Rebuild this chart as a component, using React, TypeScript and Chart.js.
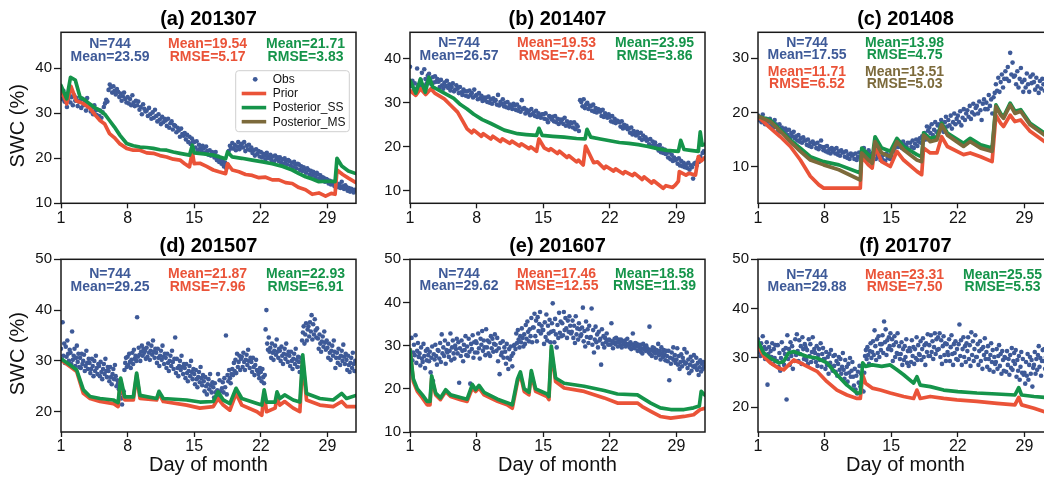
import React, { useEffect, useRef } from "react";
import { Chart, registerables } from "chart.js";

Chart.register(...registerables);

const FONT = '"Liberation Sans", Arial, Helvetica, sans-serif';
Chart.defaults.font.family = FONT;

// ---------- colours ----------
const COL_OBS = "#3e5a98";
const COL_PRIOR = "#ea5338";
const COL_SS = "#15944a";
const COL_MS = "#7c6a3b";

// ---------- shared axis data ----------
const X_TICKS = [1, 8, 15, 22, 29];
const X_MIN = 1;
const X_MAX = 32;
const X_LABEL = "Day of month";
const Y_LABEL = "SWC (%)";
const LEGEND_LABELS = ["Obs", "Prior", "Posterior_SS", "Posterior_MS"];

type Pt = [number, number];

// ---------- (a) 201307 ----------
const A_TITLE = "(a) 201307";
const A_Y_TICKS = [10, 20, 30, 40];
const A_OBS_PER_DAY = 8;
const A_OBS = [
  34.6, 33.2, 35.0, 32.6, 33.8, 31.4, 33.0, 34.2,
  32.4, 33.6, 31.8, 34.0, 32.8, 33.4, 31.6, 32.6,
  32.8, 31.2, 33.2, 31.8, 32.4, 30.6, 33.4, 31.4,
  31.6, 30.4, 31.2, 29.8, 31.8, 30.6, 29.6, 30.8,
  29.4, 30.6, 29.0, 30.2, 31.4, 32.2, 33.0, 32.6,
  35.2, 36.4, 35.8, 34.6, 36.0, 35.0, 34.2, 35.4,
  34.8, 33.6, 34.4, 32.8, 33.8, 34.6, 33.2, 32.4,
  33.6, 32.2, 33.2, 31.8, 34.0, 32.4, 31.6, 32.8,
  31.8, 32.6, 30.8, 31.4, 29.8, 32.0, 31.0, 30.4,
  30.6, 29.4, 31.2, 29.8, 28.8, 30.2, 29.0, 30.8,
  29.4, 28.2, 29.8, 28.6, 27.6, 29.2, 28.0, 28.8,
  28.4, 27.2, 28.8, 26.8, 27.8, 28.2, 26.4, 27.4,
  27.2, 25.8, 26.8, 26.2, 24.8, 26.6, 25.4, 25.0,
  25.6, 24.2, 25.2, 23.6, 24.8, 23.2, 24.4, 23.8,
  23.6, 22.4, 23.8, 21.8, 23.0, 22.2, 21.6, 22.8,
  22.2, 21.2, 22.6, 21.6, 20.8, 21.8, 20.6, 21.4,
  21.0, 20.2, 21.4, 19.6, 20.4, 19.2, 20.0, 18.8,
  19.4, 18.2, 19.0, 17.8, 18.6, 21.6, 22.8, 22.2,
  23.4, 22.2, 23.0, 21.8, 22.6, 23.6, 22.0, 22.8,
  23.2, 22.4, 23.6, 21.6, 22.8, 22.0, 23.0, 21.8,
  22.4, 21.2, 21.8, 20.6, 22.0, 21.0, 21.6, 20.4,
  21.4, 20.2, 21.0, 20.6, 19.8, 21.2, 20.4, 20.0,
  20.8, 19.6, 20.4, 19.2, 20.6, 19.8, 20.2, 19.4,
  20.2, 19.0, 19.8, 18.8, 20.0, 19.4, 18.6, 19.6,
  19.4, 18.4, 19.0, 18.0, 19.2, 18.6, 17.8, 18.8,
  18.6, 17.4, 18.2, 17.2, 18.0, 17.6, 16.8, 17.8,
  17.4, 16.4, 17.2, 16.2, 17.0, 16.6, 15.8, 16.8,
  16.4, 15.4, 16.2, 15.0, 15.8, 15.6, 14.8, 15.4,
  15.2, 14.4, 15.0, 14.2, 14.8, 14.6, 13.8, 14.4,
  14.4, 13.6, 14.2, 13.4, 14.8, 13.8, 13.2, 14.0,
  13.6, 12.8, 13.4, 12.6, 13.2, 13.0, 12.4, 13.0,
];
const A_PRIOR: Pt[] = [
  [1, 35.4], [1.6, 32.1], [2.05, 36.0], [2.6, 32.8], [3.3, 32.2], [4.0, 31.2], [4.6, 29.6], [5.1, 28.4],
  [5.6, 27.6], [6.1, 25.5], [6.6, 24.6], [7.2, 23.2], [7.9, 22.2], [8.6, 21.8], [9.3, 21.8], [10.0, 21.2],
  [10.7, 21.1], [11.4, 20.6], [12.1, 20.3], [12.8, 19.8], [13.5, 19.6], [14.0, 18.8], [14.5, 18.1], [14.8, 21.4],
  [15.0, 18.8], [15.6, 18.9], [16.3, 18.2], [17.0, 17.4], [17.6, 17.0], [18.3, 16.6], [18.5, 18.8], [19.0, 17.4],
  [19.7, 17.0], [20.4, 16.4], [21.1, 16.2], [21.8, 15.7], [22.5, 15.8], [23.2, 15.2], [23.9, 15.2], [24.6, 14.6],
  [25.3, 14.4], [26.0, 13.5], [26.7, 13.0], [27.4, 12.0], [28.1, 12.3], [28.8, 11.6], [29.4, 12.2], [29.8, 12.0],
  [30.0, 17.4], [30.6, 16.4], [31.2, 15.6], [32, 14.6],
];
const A_SS: Pt[] = [
  [1, 36.2], [1.6, 33.2], [2.0, 38.0], [2.5, 37.4], [3.0, 33.6], [3.5, 33.0], [4.0, 32.1], [4.6, 31.2],
  [5.1, 30.6], [5.6, 29.8], [6.1, 28.4], [6.6, 27.0], [7.2, 25.1], [7.9, 23.3], [8.6, 22.8], [9.3, 22.5],
  [10.0, 22.4], [10.7, 22.2], [11.4, 21.9], [12.1, 21.8], [12.8, 21.4], [13.5, 21.1], [14.5, 20.7], [14.8, 22.9],
  [15.0, 21.2], [16.0, 21.0], [17.0, 20.7], [18.3, 19.9], [18.5, 21.4], [19.0, 20.3], [20.0, 20.0], [21.1, 19.6],
  [22.2, 19.2], [23.2, 18.8], [24.3, 18.2], [25.3, 17.4], [26.0, 16.6], [26.7, 15.9], [27.4, 15.4], [28.1, 14.8],
  [29.0, 14.9], [29.8, 14.8], [30.0, 20.0], [30.5, 18.3], [31.2, 17.2], [32, 16.6],
];
const A_STATS_OBS = ["N=744", "Mean=23.59"];
const A_STATS_PRIOR = ["Mean=19.54", "RMSE=5.17"];
const A_STATS_SS = ["Mean=21.71", "RMSE=3.83"];

// ---------- (b) 201407 ----------
const B_TITLE = "(b) 201407";
const B_Y_TICKS = [10, 20, 30, 40];
const B_OBS_PER_DAY = 8;
const B_OBS = [
  38.2, 33.8, 35.0, 32.6, 34.4, 33.2, 37.8, 34.0,
  33.6, 35.2, 36.8, 34.0, 37.6, 35.4, 34.4, 36.2,
  36.6, 35.0, 34.2, 35.8, 34.6, 36.0, 34.8, 35.4,
  34.8, 33.6, 35.2, 34.0, 33.2, 34.6, 33.8, 35.0,
  33.4, 34.2, 32.8, 33.6, 34.4, 32.6, 33.0, 34.0,
  33.2, 32.2, 33.6, 32.4, 31.8, 33.0, 32.6, 31.6,
  32.6, 31.4, 32.8, 31.8, 32.2, 31.2, 33.0, 31.6,
  31.8, 30.8, 32.2, 31.0, 31.6, 30.4, 31.2, 30.6,
  31.2, 30.2, 31.4, 30.0, 30.8, 29.8, 31.0, 30.4,
  30.6, 29.6, 31.8, 29.4, 30.2, 29.8, 30.8, 29.2,
  30.0, 29.0, 30.2, 28.8, 29.6, 29.2, 28.6, 29.8,
  29.4, 28.4, 29.6, 28.2, 29.0, 28.0, 30.6, 28.6,
  28.8, 27.6, 28.4, 27.8, 28.2, 27.2, 28.6, 27.4,
  27.8, 27.0, 28.2, 26.8, 27.6, 27.2, 26.6, 27.4,
  27.4, 26.4, 27.6, 26.2, 25.6, 27.0, 26.8, 26.2,
  26.8, 25.8, 27.0, 25.6, 26.4, 25.2, 26.2, 25.6,
  26.2, 25.2, 26.6, 24.8, 25.8, 25.0, 24.6, 25.6,
  25.4, 24.4, 25.6, 24.0, 25.0, 24.6, 23.6, 30.6,
  30.2, 29.2, 30.8, 28.8, 29.6, 30.0, 28.6, 29.4,
  29.2, 28.2, 29.6, 28.0, 28.8, 27.8, 28.6, 28.4,
  28.0, 27.0, 28.4, 26.8, 27.6, 27.2, 26.6, 27.4,
  26.8, 25.8, 27.0, 25.6, 26.4, 25.4, 26.0, 25.8,
  25.6, 24.6, 25.8, 24.2, 25.0, 24.4, 24.8, 24.0,
  24.2, 23.2, 24.4, 22.8, 23.6, 23.0, 22.6, 23.4,
  23.0, 22.0, 23.2, 21.6, 22.6, 21.8, 22.2, 21.4,
  21.6, 20.6, 21.8, 20.2, 21.2, 20.4, 21.0, 19.8,
  20.2, 19.2, 20.4, 18.8, 19.6, 18.6, 19.4, 18.4,
  18.6, 17.6, 18.8, 17.2, 18.2, 16.8, 17.6, 17.0,
  17.2, 16.2, 17.4, 15.8, 16.8, 15.6, 16.4, 15.4,
  16.0, 15.2, 16.4, 14.8, 15.8, 15.4, 12.8, 16.2,
  16.4, 15.8, 17.0, 16.6, 17.8, 17.2, 18.6, 19.0,
];
const B_PRIOR: Pt[] = [
  [1, 32.8], [1.6, 31.7], [2.1, 33.2], [2.65, 31.9], [3.2, 33.2], [3.6, 32.2], [4.6, 30.9], [5.3, 29.4],
  [6.0, 27.9], [6.5, 26.0], [7.0, 24.1], [7.5, 23.2], [7.7, 23.8], [8.5, 22.4], [8.7, 23.0], [9.5, 21.8],
  [9.7, 22.4], [10.5, 21.2], [10.7, 21.8], [11.5, 20.8], [11.7, 21.3], [12.5, 20.2], [12.7, 20.7], [13.5, 19.6],
  [13.7, 20.0], [14.3, 19.0], [14.55, 21.8], [15.1, 19.8], [15.6, 19.2], [15.8, 19.6], [16.5, 18.5], [16.7, 19.0],
  [17.5, 17.6], [17.7, 18.0], [18.5, 16.6], [18.7, 17.0], [19.2, 15.9], [19.45, 20.2], [20.3, 16.4], [20.7, 16.6],
  [21.4, 15.1], [21.6, 15.6], [22.4, 14.5], [22.6, 15.0], [23.4, 13.9], [23.6, 14.4], [24.4, 13.5], [24.6, 14.0],
  [25.4, 12.6], [25.6, 13.2], [26.4, 11.8], [26.6, 12.3], [27.6, 10.6], [27.9, 11.2], [28.6, 10.8], [28.9, 11.4],
  [29.2, 12.2], [29.3, 14.4], [30.0, 13.6], [30.3, 14.0], [31.0, 13.6], [31.3, 17.8], [31.6, 16.8], [32, 17.6],
];
const B_SS: Pt[] = [
  [1, 35.1], [1.6, 32.2], [2.1, 35.4], [2.6, 32.4], [3.0, 35.8], [3.4, 33.6], [4.6, 32.2], [5.6, 31.0],
  [6.3, 29.6], [7.0, 28.6], [7.7, 27.4], [8.6, 26.2], [9.5, 25.3], [10.9, 23.8], [12.3, 23.0], [13.2, 22.8],
  [14.3, 22.6], [14.55, 24.2], [14.9, 22.6], [16.0, 22.4], [17.2, 22.2], [18.5, 21.9], [19.4, 21.8], [19.6, 24.0],
  [20.0, 22.2], [21.0, 21.8], [22.0, 21.4], [23.0, 21.0], [24.0, 20.8], [25.0, 20.5], [26.0, 20.1], [27.0, 19.6],
  [28.0, 19.2], [29.2, 19.0], [29.45, 21.5], [29.8, 19.4], [30.5, 19.2], [31.3, 19.0], [31.5, 23.4], [31.7, 20.4],
  [32, 20.6],
];
const B_STATS_OBS = ["N=744", "Mean=26.57"];
const B_STATS_PRIOR = ["Mean=19.53", "RMSE=7.61"];
const B_STATS_SS = ["Mean=23.95", "RMSE=3.86"];

// ---------- (c) 201408 ----------
const C_TITLE = "(c) 201408";
const C_Y_TICKS = [10, 20, 30];
const C_OBS_PER_DAY = 8;
const C_OBS = [
  19.4, 18.6, 19.0, 18.2, 19.6, 18.4, 17.8, 18.8,
  18.4, 17.6, 18.8, 17.4, 18.0, 17.2, 18.6, 17.8,
  17.4, 16.6, 17.8, 16.4, 17.2, 16.8, 16.2, 17.0,
  16.6, 15.8, 16.8, 15.4, 16.2, 15.6, 16.4, 15.2,
  15.6, 14.8, 15.8, 14.6, 15.2, 14.4, 15.4, 14.8,
  14.8, 14.0, 15.0, 13.8, 14.4, 13.6, 14.6, 14.2,
  14.2, 13.4, 14.4, 13.2, 13.8, 14.8, 13.6, 13.0,
  13.6, 12.8, 13.8, 12.6, 13.2, 12.4, 13.4, 12.8,
  13.2, 12.4, 13.4, 12.2, 12.8, 12.0, 13.0, 12.6,
  12.6, 11.8, 12.8, 11.6, 12.2, 11.4, 12.4, 12.0,
  12.2, 11.4, 12.4, 11.2, 11.8, 12.6, 11.6, 12.0,
  12.8, 13.4, 12.2, 12.6, 11.8, 13.0, 12.4, 11.6,
  12.4, 11.6, 12.8, 11.4, 12.2, 11.8, 12.6, 11.2,
  11.8, 11.2, 12.2, 11.0, 12.4, 11.6, 12.0, 11.4,
  12.2, 11.6, 12.8, 13.4, 12.6, 14.0, 13.6, 14.4,
  14.2, 13.4, 14.6, 13.2, 14.0, 13.6, 14.4, 13.0,
  14.4, 13.6, 14.8, 13.4, 14.2, 15.0, 13.8, 14.6,
  15.2, 14.4, 15.6, 14.8, 16.2, 15.0, 17.4, 16.6,
  17.2, 16.2, 17.8, 15.8, 16.8, 18.2, 16.4, 17.6,
  17.8, 16.8, 18.6, 17.2, 16.4, 18.2, 19.2, 17.4,
  18.6, 17.6, 19.4, 17.0, 18.2, 19.8, 17.8, 18.8,
  19.4, 18.2, 20.2, 17.6, 19.0, 20.6, 18.6, 19.8,
  20.4, 19.2, 21.2, 18.8, 20.0, 21.6, 19.6, 20.8,
  21.2, 19.8, 22.0, 20.4, 18.6, 21.6, 22.4, 20.6,
  21.8, 20.6, 23.2, 21.2, 22.4, 19.8, 22.8, 23.6,
  25.2, 24.0, 26.4, 23.8, 25.6, 27.0, 24.6, 26.2,
  27.6, 26.2, 28.4, 25.8, 31.0, 27.0, 29.2, 26.6,
  26.8, 25.2, 27.6, 24.6, 26.2, 28.2, 25.6, 23.8,
  26.0, 24.6, 27.2, 25.2, 23.8, 26.6, 25.4, 27.0,
  25.6, 24.2, 26.4, 24.8, 23.6, 25.8, 24.4, 26.2,
  25.2, 24.0, 26.0, 24.6, 25.8, 23.8, 25.4, 24.8,
];
const C_PRIOR: Pt[] = [
  [1, 19.2], [2.3, 17.1], [3.35, 15.5], [4.4, 13.7], [5.45, 11.2], [6.5, 8.2], [7.4, 6.6], [7.9, 6.0],
  [11.75, 6.0], [11.9, 11.8], [12.6, 10.3], [13.0, 9.7], [13.3, 13.7], [14.0, 10.9], [14.9, 10.0], [15.6, 12.8],
  [16.3, 11.2], [17.7, 9.1], [18.2, 8.5], [18.4, 13.4], [19.1, 12.5], [19.8, 12.5], [20.3, 15.5], [20.9, 13.7],
  [22.6, 12.2], [23.3, 12.5], [24.4, 11.8], [25.6, 10.9], [26.0, 19.5], [26.5, 18.0], [26.8, 17.4], [27.5, 19.5],
  [28.0, 18.3], [28.6, 18.6], [29.6, 16.5], [31.1, 14.6], [32, 14.0],
];
const C_SS: Pt[] = [
  [1, 19.3], [2.3, 18.6], [3.35, 16.8], [4.4, 14.9], [5.45, 13.4], [6.5, 11.8], [7.9, 10.9], [9.5, 10.3],
  [11.75, 8.8], [11.9, 13.4], [12.6, 12.2], [13.0, 11.5], [13.3, 15.5], [14.0, 13.4], [14.9, 12.8], [15.6, 15.2],
  [16.3, 13.7], [17.7, 12.2], [18.2, 11.8], [18.4, 16.2], [19.1, 15.2], [19.8, 15.5], [20.3, 18.0], [20.9, 16.2],
  [22.6, 14.3], [23.3, 15.2], [24.4, 14.0], [25.6, 13.4], [26.0, 21.4], [26.5, 19.8], [26.8, 19.2], [27.5, 21.7],
  [28.0, 20.2], [28.6, 20.5], [29.6, 18.0], [31.1, 16.2], [32, 15.6],
];
const C_MS: Pt[] = [
  [1, 19.3], [2.3, 18.3], [3.35, 16.5], [4.4, 14.6], [5.45, 12.8], [6.5, 11.2], [7.9, 10.3], [9.5, 9.4],
  [11.75, 7.5], [11.9, 12.5], [12.6, 11.2], [13.0, 10.6], [13.3, 14.6], [14.0, 12.5], [14.9, 11.8], [15.6, 14.6],
  [16.3, 13.1], [17.7, 11.2], [18.2, 10.9], [18.4, 15.8], [19.1, 14.6], [19.8, 14.9], [20.3, 17.7], [20.9, 15.8],
  [22.6, 13.7], [23.3, 14.6], [24.4, 13.4], [25.6, 12.8], [26.0, 21.1], [26.5, 19.5], [26.8, 18.9], [27.5, 21.4],
  [28.0, 19.8], [28.6, 20.2], [29.6, 17.7], [31.1, 15.8], [32, 15.2],
];
const C_STATS_OBS = ["N=744", "Mean=17.55"];
const C_STATS_PRIOR = ["Mean=11.71", "RMSE=6.52"];
const C_STATS_SS = ["Mean=13.98", "RMSE=4.75"];
const C_STATS_MS = ["Mean=13.51", "RMSE=5.03"];

// ---------- (d) 201507 ----------
const D_TITLE = "(d) 201507";
const D_Y_TICKS = [20, 30, 40, 50];
const D_OBS_PER_DAY = 12;
const D_OBS = [
  32.4, 30.2, 37.6, 31.0, 33.4, 29.6, 32.8, 30.8, 34.0, 31.4, 30.0, 32.2,
  31.6, 29.4, 35.8, 30.2, 31.0, 32.4, 29.0, 30.6, 33.0, 29.8, 31.4, 28.8,
  30.6, 28.6, 31.4, 29.4, 30.0, 31.2, 28.0, 29.0, 32.0, 29.6, 28.4, 30.4,
  29.6, 27.6, 28.4, 30.4, 29.0, 27.0, 30.0, 28.0, 31.0, 28.6, 27.4, 29.4,
  29.0, 27.0, 29.8, 27.8, 26.4, 28.4, 29.4, 27.4, 30.4, 28.0, 26.8, 28.8,
  28.0, 26.0, 28.8, 26.8, 25.4, 27.4, 28.4, 26.4, 29.2, 27.0, 25.0, 26.2,
  25.6, 24.4, 26.0, 23.6, 22.6, 21.4, 22.8, 24.0, 28.2, 29.6, 30.6, 28.8,
  30.8, 29.2, 31.4, 29.8, 28.6, 30.2, 31.6, 29.4, 32.2, 30.4, 31.0, 30.0,
  38.6, 30.8, 32.6, 31.2, 30.0, 31.8, 33.0, 31.0, 32.4, 31.6, 32.0, 30.4,
  32.6, 30.8, 33.4, 31.6, 30.2, 32.0, 33.0, 31.2, 34.0, 31.8, 30.6, 32.4,
  31.6, 29.6, 32.4, 30.6, 29.0, 31.0, 32.0, 30.2, 33.0, 30.8, 29.4, 31.4,
  30.6, 28.6, 31.4, 29.6, 28.0, 30.0, 31.0, 29.0, 32.0, 29.8, 28.4, 30.4,
  34.6, 27.6, 30.4, 28.6, 27.0, 29.0, 30.0, 28.2, 31.0, 28.8, 27.4, 29.4,
  28.6, 26.6, 29.4, 27.6, 26.0, 28.0, 29.0, 27.0, 30.0, 27.8, 26.4, 28.4,
  27.4, 25.4, 28.2, 26.4, 24.8, 26.8, 27.8, 25.8, 28.8, 26.6, 25.2, 27.2,
  26.0, 24.0, 26.8, 25.0, 23.4, 25.4, 26.4, 24.4, 27.4, 25.2, 23.8, 25.8,
  24.8, 22.8, 25.6, 23.8, 22.4, 24.2, 27.4, 23.2, 26.2, 24.0, 22.6, 24.6,
  25.8, 23.8, 26.6, 24.8, 35.0, 23.4, 27.2, 26.0, 28.2, 26.6, 25.6, 27.4,
  28.4, 27.2, 29.6, 28.0, 30.2, 27.6, 31.4, 28.8, 29.8, 31.0, 28.2, 30.4,
  30.8, 28.8, 31.6, 29.8, 28.2, 30.2, 31.2, 29.2, 32.2, 30.0, 28.6, 30.6,
  29.8, 27.8, 30.6, 28.8, 27.2, 29.2, 30.2, 28.2, 28.0, 27.4, 26.6, 28.6,
  27.8, 26.0, 28.4, 26.8, 25.6, 27.2, 36.2, 40.0, 33.4, 32.2, 34.6, 31.8,
  32.6, 30.6, 33.4, 31.6, 30.2, 32.0, 33.0, 31.2, 34.2, 31.8, 30.6, 32.4,
  32.0, 30.0, 32.8, 31.0, 29.4, 31.4, 32.4, 30.4, 33.4, 31.2, 29.8, 31.8,
  31.0, 29.0, 31.8, 30.0, 28.4, 30.4, 31.4, 29.4, 32.4, 30.2, 28.8, 30.8,
  29.8, 27.8, 30.6, 28.8, 34.0, 35.6, 36.8, 33.4, 35.2, 37.4, 34.0, 36.2,
  36.8, 34.8, 37.6, 35.8, 39.0, 34.2, 37.2, 35.2, 38.2, 36.0, 34.6, 36.4,
  34.4, 32.4, 35.2, 33.4, 31.8, 33.8, 34.8, 32.8, 35.8, 33.6, 32.2, 34.0,
  32.6, 30.6, 33.4, 31.6, 30.2, 32.0, 33.0, 31.0, 34.0, 31.8, 28.6, 30.6,
  31.6, 29.6, 32.4, 30.6, 29.2, 31.0, 32.0, 30.0, 33.2, 30.8, 29.4, 31.4,
  30.2, 28.2, 31.0, 29.2, 27.8, 29.6, 30.6, 28.6, 31.6, 29.4, 28.0, 30.0,
];
const D_PRIOR: Pt[] = [
  [1, 30.2], [1.95, 28.9], [2.65, 27.9], [3.35, 23.6], [4.05, 22.6], [5.1, 22.0], [6.5, 21.6], [7.0, 21.0],
  [7.27, 26.2], [7.7, 22.3], [8.6, 22.3], [8.95, 27.2], [9.3, 22.6], [11.05, 22.3], [11.3, 23.6], [11.75, 22.0],
  [14.2, 21.3], [15.6, 20.7], [17.0, 21.0], [17.5, 22.6], [18.05, 21.3], [18.75, 20.3], [19.4, 23.6], [20.0, 21.3],
  [21.6, 20.0], [22.1, 19.3], [22.35, 23.6], [22.6, 20.0], [23.5, 20.7], [23.7, 22.6], [24.0, 21.3], [24.5, 22.0],
  [25.4, 20.7], [26.1, 20.0], [26.4, 30.2], [26.8, 22.3], [28.2, 21.3], [29.6, 21.0], [30.5, 22.0], [31.0, 21.0],
  [32, 21.0],
];
const D_SS: Pt[] = [
  [1, 30.4], [1.95, 29.2], [2.65, 28.2], [3.35, 24.3], [4.05, 23.0], [5.1, 22.6], [6.5, 22.3], [7.0, 21.8],
  [7.27, 26.6], [7.7, 22.9], [8.6, 22.9], [8.95, 27.6], [9.3, 23.2], [11.05, 22.6], [11.3, 24.0], [11.75, 22.6],
  [14.2, 22.3], [15.6, 21.9], [17.0, 22.0], [17.5, 23.9], [18.05, 22.3], [18.75, 21.6], [19.4, 24.6], [20.0, 22.6],
  [21.6, 21.6], [22.1, 21.3], [22.35, 24.3], [22.6, 21.9], [23.5, 21.9], [23.7, 23.9], [24.0, 22.6], [24.5, 23.3],
  [25.4, 22.3], [26.1, 21.9], [26.4, 31.2], [26.8, 23.6], [28.2, 22.6], [29.6, 22.3], [30.5, 23.6], [31.0, 22.6],
  [32, 23.2],
];
const D_STATS_OBS = ["N=744", "Mean=29.25"];
const D_STATS_PRIOR = ["Mean=21.87", "RMSE=7.96"];
const D_STATS_SS = ["Mean=22.93", "RMSE=6.91"];

// ---------- (e) 201607 ----------
const E_TITLE = "(e) 201607";
const E_Y_TICKS = [10, 20, 30, 40, 50];
const E_OBS_PER_DAY = 12;
const E_OBS = [
  29.0, 27.2, 31.8, 26.6, 28.4, 30.2, 27.8, 32.4, 26.0, 28.8, 30.6, 27.4,
  28.2, 25.4, 29.6, 27.0, 26.2, 30.4, 27.6, 24.8, 28.8, 26.6, 29.2, 27.8,
  26.4, 28.6, 23.8, 27.2, 29.8, 21.8, 28.0, 26.8, 30.2, 27.6, 25.6, 29.0,
  28.8, 27.0, 30.6, 26.2, 32.6, 28.2, 29.6, 27.6, 31.2, 25.8, 29.0, 28.4,
  30.4, 27.4, 28.8, 32.8, 26.6, 29.6, 31.2, 28.2, 27.0, 30.0, 29.2, 31.6,
  28.2, 30.8, 21.4, 29.4, 27.6, 31.2, 28.8, 26.4, 30.2, 29.0, 32.2, 27.8,
  29.8, 27.6, 31.6, 28.6, 21.2, 30.4, 29.2, 32.4, 27.2, 30.8, 28.4, 31.0,
  30.6, 28.4, 32.8, 29.4, 27.0, 31.6, 30.2, 33.4, 28.8, 31.2, 29.6, 27.8,
  33.8, 29.6, 31.2, 28.2, 30.8, 27.6, 32.2, 29.4, 31.6, 28.6, 30.4, 32.6,
  30.2, 28.8, 31.8, 26.4, 29.4, 23.4, 30.6, 27.8, 28.4, 31.0, 27.2, 29.6,
  28.6, 25.8, 30.4, 27.2, 24.6, 29.2, 26.8, 29.8, 27.6, 25.2, 28.2, 30.0,
  30.2, 29.2, 32.8, 30.6, 33.6, 31.4, 29.6, 32.2, 30.8, 34.0, 31.8, 29.8,
  32.6, 30.4, 34.8, 31.6, 35.6, 33.2, 31.0, 33.8, 32.2, 36.4, 30.8, 34.2,
  34.2, 37.4, 32.2, 35.8, 31.0, 36.6, 33.4, 35.0, 37.8, 32.8, 34.6, 33.6,
  33.6, 30.4, 35.4, 32.0, 37.2, 31.2, 34.6, 32.8, 36.0, 30.8, 33.2, 35.2,
  39.8, 33.4, 30.8, 36.2, 32.6, 29.6, 34.8, 31.8, 37.6, 33.0, 35.6, 32.2,
  35.2, 32.4, 37.8, 33.6, 36.4, 34.0, 31.8, 35.8, 33.2, 36.8, 34.6, 32.8,
  33.2, 35.8, 31.8, 34.6, 30.6, 36.8, 32.6, 34.0, 31.4, 35.2, 33.8, 32.2,
  32.6, 34.2, 38.8, 31.0, 33.4, 29.8, 35.6, 32.0, 33.8, 30.6, 34.6, 31.8,
  32.0, 38.6, 30.2, 33.6, 28.4, 31.4, 34.4, 30.8, 32.6, 29.6, 33.2, 31.2,
  31.6, 25.6, 33.8, 30.4, 32.2, 29.6, 31.8, 30.8, 32.8, 31.2, 30.2, 31.4,
  31.2, 30.2, 35.2, 31.0, 29.4, 30.6, 31.6, 30.4, 31.8, 30.8, 29.8, 31.4,
  30.8, 30.0, 31.4, 29.6, 31.0, 30.4, 30.6, 31.2, 29.8, 30.4, 31.6, 30.2,
  30.4, 29.6, 30.8, 29.2, 30.2, 32.8, 30.0, 29.4, 30.6, 29.8, 30.4, 28.8,
  29.8, 29.0, 30.2, 28.6, 29.4, 28.2, 30.4, 29.2, 29.6, 28.8, 30.0, 29.4,
  29.2, 28.4, 34.4, 28.0, 29.0, 27.6, 29.6, 28.6, 29.4, 28.2, 27.2, 29.0,
  28.6, 30.4, 27.8, 28.8, 26.8, 29.6, 28.2, 27.4, 29.0, 28.0, 26.6, 28.8,
  27.6, 26.4, 28.8, 22.0, 27.2, 25.8, 28.4, 27.0, 29.6, 26.6, 27.8, 26.0,
  26.8, 29.4, 25.6, 27.6, 24.6, 26.2, 28.0, 25.2, 27.2, 26.4, 29.2, 25.8,
  26.0, 28.4, 24.8, 26.8, 23.6, 25.6, 27.4, 24.2, 26.4, 25.2, 27.8, 25.0,
  25.4, 27.2, 24.4, 26.0, 23.2, 25.0, 26.6, 24.0, 25.8, 24.6, 26.2, 25.2,
];
const E_PRIOR: Pt[] = [
  [1, 29.0], [1.35, 21.7], [1.77, 19.4], [2.3, 17.9], [2.8, 16.3], [3.1, 16.3], [3.28, 22.5], [3.7, 18.6],
  [4.2, 17.5], [4.75, 19.4], [5.27, 18.2], [6.3, 17.5], [7.0, 17.1], [7.55, 20.2], [7.9, 19.4], [8.25, 20.2],
  [8.78, 18.6], [10.2, 17.1], [11.2, 16.3], [11.75, 15.5], [12.3, 21.7], [12.6, 23.3], [13.0, 19.4], [13.5, 18.6],
  [13.75, 23.6], [14.2, 19.4], [15.4, 18.2], [15.6, 17.5], [15.85, 29.0], [16.3, 21.7], [17.2, 20.2], [19.3, 19.4],
  [21.4, 17.9], [22.8, 16.7], [24.9, 16.7], [25.4, 15.9], [26.3, 14.8], [27.3, 13.6], [28.4, 13.2], [29.8, 13.6],
  [30.8, 14.0], [31.5, 15.2], [32, 15.5],
];
const E_SS: Pt[] = [
  [1, 29.0], [1.35, 22.3], [1.77, 20.0], [2.3, 18.6], [2.8, 17.1], [3.1, 17.1], [3.28, 23.0], [3.7, 19.0],
  [4.2, 17.9], [4.75, 19.8], [5.27, 18.6], [6.3, 18.0], [7.0, 17.6], [7.55, 21.0], [7.9, 19.8], [8.25, 20.8],
  [8.78, 19.2], [10.2, 17.6], [11.2, 16.8], [11.75, 16.3], [12.3, 22.3], [12.6, 23.9], [13.0, 20.0], [13.5, 19.2],
  [13.75, 24.2], [14.2, 20.0], [15.4, 18.8], [15.6, 18.2], [15.85, 29.9], [16.3, 22.5], [17.2, 21.3], [19.3, 20.6],
  [21.4, 19.6], [22.8, 18.8], [24.9, 18.6], [25.4, 17.9], [26.3, 16.7], [27.3, 15.6], [28.4, 15.2], [29.8, 15.2],
  [30.8, 15.6], [31.4, 16.0], [31.6, 19.4], [32, 18.5],
];
const E_STATS_OBS = ["N=744", "Mean=29.62"];
const E_STATS_PRIOR = ["Mean=17.46", "RMSE=12.55"];
const E_STATS_SS = ["Mean=18.58", "RMSE=11.39"];

// ---------- (f) 201707 ----------
const F_TITLE = "(f) 201707";
const F_Y_TICKS = [20, 30, 40, 50];
const F_OBS_PER_DAY = 12;
const F_OBS = [
  33.8, 31.2, 32.6, 30.4, 33.0, 31.6, 34.4, 30.8, 32.2, 29.8, 31.8, 33.2,
  24.6, 30.8, 32.2, 29.6, 31.4, 30.2, 33.0, 28.8, 31.8, 30.0, 32.6, 29.4,
  29.4, 32.6, 28.2, 31.0, 27.4, 30.0, 33.2, 29.2, 31.6, 28.6, 30.8, 32.0,
  21.6, 34.6, 29.8, 31.8, 28.6, 33.2, 30.4, 32.4, 27.8, 31.2, 29.4, 33.8,
  30.6, 34.8, 31.4, 29.4, 33.6, 30.8, 32.4, 28.8, 34.2, 31.8, 29.8, 32.8,
  32.2, 29.6, 31.6, 28.8, 33.8, 30.4, 32.8, 29.2, 31.2, 34.2, 30.0, 31.8,
  31.0, 29.2, 32.4, 28.4, 30.6, 31.8, 29.6, 33.0, 28.2, 30.8, 32.0, 29.8,
  29.8, 27.8, 31.2, 28.6, 30.2, 26.8, 30.8, 29.0, 31.6, 28.2, 27.4, 30.4,
  28.4, 30.6, 27.2, 29.4, 26.4, 28.8, 30.2, 27.6, 29.8, 26.8, 28.2, 31.0,
  27.6, 25.8, 29.6, 26.8, 28.2, 25.2, 28.8, 27.0, 30.0, 26.2, 27.4, 29.2,
  26.2, 24.4, 27.8, 23.6, 26.4, 22.8, 27.2, 25.0, 28.4, 24.2, 26.8, 23.4,
  25.4, 23.2, 27.0, 30.4, 31.6, 29.8, 32.2, 30.6, 28.8, 31.4, 33.0, 30.0,
  31.2, 33.4, 30.6, 35.6, 32.4, 29.6, 33.8, 31.0, 34.4, 30.2, 32.8, 31.6,
  32.8, 34.6, 31.0, 37.4, 33.2, 35.8, 30.6, 33.6, 31.8, 34.2, 32.4, 35.0,
  31.6, 33.8, 29.4, 32.6, 34.4, 30.2, 33.2, 31.0, 35.0, 30.8, 32.4, 29.8,
  30.8, 33.2, 28.6, 31.8, 29.6, 32.4, 30.2, 33.8, 29.0, 31.4, 28.4, 32.0,
  31.4, 29.2, 33.6, 30.4, 32.2, 28.8, 31.8, 30.0, 34.2, 29.6, 32.6, 30.8,
  30.6, 33.4, 29.6, 31.8, 34.0, 30.2, 32.6, 28.6, 33.0, 31.2, 34.8, 30.4,
  32.6, 30.4, 34.6, 31.2, 33.4, 29.8, 32.2, 35.0, 30.8, 33.8, 31.6, 34.2,
  31.8, 35.0, 30.2, 33.6, 28.8, 32.4, 34.4, 30.6, 33.0, 29.4, 32.8, 31.2,
  30.6, 33.8, 29.4, 32.2, 34.6, 30.8, 28.6, 32.8, 31.0, 33.4, 29.8, 31.8,
  29.6, 32.8, 36.8, 30.4, 33.6, 28.6, 31.8, 34.2, 30.2, 32.4, 29.2, 33.0,
  31.4, 34.2, 29.8, 32.6, 28.4, 35.2, 30.6, 33.4, 29.4, 31.8, 34.6, 30.2,
  30.2, 32.8, 28.6, 31.4, 33.4, 29.4, 31.8, 27.8, 32.2, 30.6, 34.0, 29.8,
  31.2, 28.2, 32.4, 29.8, 27.6, 30.6, 33.0, 29.2, 31.6, 27.2, 30.2, 28.8,
  29.2, 31.8, 27.8, 30.4, 32.6, 28.4, 30.8, 26.8, 31.4, 29.6, 27.4, 30.2,
  30.0, 27.2, 31.4, 28.6, 29.8, 26.6, 30.6, 28.0, 32.0, 27.6, 29.4, 31.0,
  28.8, 31.6, 26.2, 29.6, 27.4, 30.4, 25.6, 28.2, 31.2, 27.0, 29.8, 26.6,
  27.0, 24.8, 29.2, 26.4, 30.8, 25.6, 28.6, 30.2, 26.8, 29.6, 24.2, 28.0,
  28.6, 31.2, 26.8, 29.8, 27.6, 30.6, 32.4, 28.2, 30.0, 26.4, 29.4, 31.6,
  29.4, 31.8, 27.8, 30.2, 28.4, 29.0, 32.6, 28.8, 30.8, 27.2, 31.0, 29.6,
];
const F_PRIOR: Pt[] = [
  [1, 32.7], [1.6, 30.3], [2.3, 29.0], [3.2, 27.9], [3.7, 27.6], [4.75, 29.6], [5.45, 29.0], [6.15, 28.3],
  [7.2, 27.3], [8.25, 25.2], [9.3, 23.5], [10.35, 22.5], [11.4, 21.8], [11.75, 21.8], [12.0, 26.6], [12.3, 24.9],
  [13.0, 23.9], [13.85, 23.5], [14.9, 22.9], [16.3, 22.2], [17.35, 21.8], [17.7, 23.5], [18.05, 21.8], [19.1, 22.2],
  [20.5, 21.8], [21.9, 21.5], [24.0, 21.2], [26.1, 20.8], [28.0, 20.5], [28.4, 22.0], [28.7, 20.5], [30.0, 19.8],
  [31.1, 19.1], [32, 19.0],
];
const F_SS: Pt[] = [
  [1, 33.4], [1.6, 31.0], [2.3, 30.0], [3.2, 29.0], [3.7, 29.3], [4.2, 31.0], [4.75, 31.3], [6.15, 30.3],
  [7.2, 30.0], [8.25, 29.0], [9.3, 26.6], [10.35, 24.5], [11.4, 22.9], [11.75, 22.9], [12.0, 29.0], [12.3, 28.3],
  [13.0, 28.6], [14.0, 28.3], [14.9, 28.6], [15.6, 27.6], [16.3, 26.6], [17.35, 24.9], [17.7, 26.2], [18.05, 24.5],
  [19.1, 24.2], [20.5, 23.5], [22.0, 23.2], [24.0, 22.9], [26.1, 22.7], [28.0, 22.5], [28.4, 24.0], [28.7, 22.5],
  [30.0, 22.2], [31.1, 22.0], [32, 22.0],
];
const F_STATS_OBS = ["N=744", "Mean=29.88"];
const F_STATS_PRIOR = ["Mean=23.31", "RMSE=7.50"];
const F_STATS_SS = ["Mean=25.55", "RMSE=5.53"];

// ---------- layout (styling) ----------
const COL_LEFT = [61, 409.5, 758];
const PLOT_W = 295;
const Y_AXIS_W = 55;
const RIGHT_PAD = 5;
const ROWS = [
  { canvasTop: 0, canvasH: 232, plotTop: 32.3, plotBottom: 203.3, titleY: 19 },
  { canvasTop: 230, canvasH: 249, plotTop: 259.3, plotBottom: 432, titleY: 246 },
];
const NOTE_X = [0.166, 0.497, 0.829];

interface Note { lines: string[]; color: string; fx: number; dy: number[] }
interface PanelCfg {
  title: string; row: number; col: number;
  obs: number[]; perDay: number;
  prior: Pt[]; ss: Pt[]; ms?: Pt[];
  yMin: number; yMax: number; yTicks: number[];
  notes: Note[]; legend: boolean; yTitle: boolean; xTitle: boolean;
}

const rowNotes = (o: string[], p: string[], s: string[], d0: number, d1: number): Note[] => [
  { lines: o, color: COL_OBS, fx: NOTE_X[0], dy: [d0, d1] },
  { lines: p, color: COL_PRIOR, fx: NOTE_X[1], dy: [d0, d1] },
  { lines: s, color: COL_SS, fx: NOTE_X[2], dy: [d0, d1] },
];

const PANELS: PanelCfg[] = [
  { title: A_TITLE, row: 0, col: 0, obs: A_OBS, perDay: A_OBS_PER_DAY, prior: A_PRIOR, ss: A_SS,
    yMin: 10, yMax: 48, yTicks: A_Y_TICKS, notes: rowNotes(A_STATS_OBS, A_STATS_PRIOR, A_STATS_SS, 12, 25.2),
    legend: true, yTitle: true, xTitle: false },
  { title: B_TITLE, row: 0, col: 1, obs: B_OBS, perDay: B_OBS_PER_DAY, prior: B_PRIOR, ss: B_SS,
    yMin: 7.2, yMax: 46, yTicks: B_Y_TICKS, notes: rowNotes(B_STATS_OBS, B_STATS_PRIOR, B_STATS_SS, 11.3, 24.2),
    legend: false, yTitle: false, xTitle: false },
  { title: C_TITLE, row: 0, col: 2, obs: C_OBS, perDay: C_OBS_PER_DAY, prior: C_PRIOR, ss: C_SS, ms: C_MS,
    yMin: 3.2, yMax: 34.8, yTicks: C_Y_TICKS,
    notes: [
      { lines: C_STATS_OBS, color: COL_OBS, fx: NOTE_X[0], dy: [10.6, 22.9] },
      { lines: C_STATS_SS, color: COL_SS, fx: NOTE_X[1], dy: [10.6, 22.9] },
      { lines: C_STATS_PRIOR, color: COL_PRIOR, fx: NOTE_X[0], dy: [39.4, 51.7] },
      { lines: C_STATS_MS, color: COL_MS, fx: NOTE_X[1], dy: [39.4, 51.7] },
    ],
    legend: false, yTitle: false, xTitle: false },
  { title: D_TITLE, row: 1, col: 0, obs: D_OBS, perDay: D_OBS_PER_DAY, prior: D_PRIOR, ss: D_SS,
    yMin: 16, yMax: 50, yTicks: D_Y_TICKS, notes: rowNotes(D_STATS_OBS, D_STATS_PRIOR, D_STATS_SS, 15, 27.4),
    legend: false, yTitle: true, xTitle: true },
  { title: E_TITLE, row: 1, col: 1, obs: E_OBS, perDay: E_OBS_PER_DAY, prior: E_PRIOR, ss: E_SS,
    yMin: 10, yMax: 50, yTicks: E_Y_TICKS, notes: rowNotes(E_STATS_OBS, E_STATS_PRIOR, E_STATS_SS, 14.5, 26.9),
    legend: false, yTitle: false, xTitle: true },
  { title: F_TITLE, row: 1, col: 2, obs: F_OBS, perDay: F_OBS_PER_DAY, prior: F_PRIOR, ss: F_SS,
    yMin: 15, yMax: 50, yTicks: F_Y_TICKS, notes: rowNotes(F_STATS_OBS, F_STATS_PRIOR, F_STATS_SS, 15.5, 27.9),
    legend: false, yTitle: false, xTitle: true },
];

const toXY = (list: Pt[]) => list.map(([x, y]) => ({ x, y }));
const obsXY = (vals: number[], perDay: number) => vals.map((v, i) => ({ x: X_MIN + i / perDay, y: v }));

function decorPlugin(cfg: PanelCfg) {
  return {
    id: "decor",
    afterDatasetsDraw(chart: any) {
      const { ctx, chartArea: a } = chart;
      ctx.save();
      ctx.strokeStyle = "#1a1a1a";
      ctx.lineWidth = 1.5;
      ctx.strokeRect(a.left, a.top, a.right - a.left, a.bottom - a.top);
      ctx.font = `bold 14px ${FONT}`;
      ctx.textAlign = "center";
      ctx.textBaseline = "middle";
      for (const n of cfg.notes) {
        ctx.fillStyle = n.color;
        n.lines.forEach((t, j) => ctx.fillText(t, a.left + n.fx * (a.right - a.left), a.top + n.dy[j]));
      }
      if (cfg.legend) {
        const bx = a.left + 174.7, by = a.top + 38.4, bw = 113.6, bh = 61;
        ctx.fillStyle = "rgba(255,255,255,0.85)";
        ctx.strokeStyle = "#cfcfcf";
        ctx.lineWidth = 1;
        ctx.beginPath();
        ctx.roundRect(bx, by, bw, bh, 3);
        ctx.fill();
        ctx.stroke();
        const rowsY = [8.6, 22.8, 36.9, 51];
        const cols = [COL_OBS, COL_PRIOR, COL_SS, COL_MS];
        ctx.font = `12px ${FONT}`;
        ctx.textAlign = "left";
        LEGEND_LABELS.forEach((lab, i) => {
          const yy = by + rowsY[i];
          if (i === 0) {
            ctx.fillStyle = cols[0];
            ctx.beginPath();
            ctx.arc(bx + 19.5, yy, 2.4, 0, Math.PI * 2);
            ctx.fill();
          } else {
            ctx.strokeStyle = cols[i];
            ctx.lineWidth = 3.6;
            ctx.beginPath();
            ctx.moveTo(bx + 6, yy);
            ctx.lineTo(bx + 30.5, yy);
            ctx.stroke();
          }
          ctx.fillStyle = "#111";
          ctx.fillText(lab, bx + 37, yy + 0.5);
        });
      }
      if (cfg.yTitle) {
        ctx.fillStyle = "#111";
        ctx.font = `20px ${FONT}`;
        ctx.textAlign = "center";
        ctx.textBaseline = "middle";
        ctx.translate(12, (a.top + a.bottom) / 2 + 8);
        ctx.rotate(-Math.PI / 2);
        ctx.fillText(Y_LABEL, 0, 0);
      }
      ctx.restore();
    },
  };
}

function Panel({ cfg }: { cfg: PanelCfg }) {
  const ref = useRef<HTMLCanvasElement | null>(null);
  const r = ROWS[cfg.row];
  const left = COL_LEFT[cfg.col] - Y_AXIS_W;
  const width = Y_AXIS_W + PLOT_W + RIGHT_PAD;
  const padTop = r.titleY - r.canvasTop - 12;
  const padBottom = r.plotTop - r.canvasTop - 24 - padTop;
  const xAxisH = r.canvasTop + r.canvasH - r.plotBottom;

  useEffect(() => {
    const lineDs = (label: string, data: Pt[], color: string, order: number) => ({
      label, data: toXY(data), showLine: true, borderColor: color, backgroundColor: color,
      borderWidth: 3.7, pointRadius: 0, pointHoverRadius: 0, order,
      borderJoinStyle: "round", borderCapStyle: "round", tension: 0,
    });
    const datasets: any[] = [
      { label: "Obs", data: obsXY(cfg.obs, cfg.perDay), showLine: false, pointRadius: 2.3,
        pointBackgroundColor: COL_OBS, pointBorderWidth: 0, borderColor: COL_OBS, backgroundColor: COL_OBS, order: 4 },
      lineDs("Prior", cfg.prior, COL_PRIOR, 3),
      lineDs("Posterior_SS", cfg.ss, COL_SS, 2),
    ];
    if (cfg.ms) datasets.push(lineDs("Posterior_MS", cfg.ms, COL_MS, 1));

    const chart = new Chart(ref.current as HTMLCanvasElement, {
      type: "scatter",
      data: { datasets },
      options: {
        animation: false,
        responsive: false,
        devicePixelRatio: 1,
        events: [],
        layout: { padding: { left: 0, right: RIGHT_PAD, top: 0, bottom: 0 } },
        plugins: {
          legend: { display: false },
          tooltip: { enabled: false },
          title: {
            display: true, text: cfg.title, color: "#000", fullSize: false,
            font: { size: 20, weight: "bold", family: FONT, lineHeight: 1.2 },
            padding: { top: padTop, bottom: padBottom },
          },
        },
        scales: {
          x: {
            type: "linear", min: X_MIN, max: X_MAX,
            afterBuildTicks: (s: any) => { s.ticks = X_TICKS.map((v) => ({ value: v })); },
            afterFit: (s: any) => { s.height = xAxisH; },
            ticks: { font: { size: 16, family: FONT, lineHeight: 1.1 }, color: "#111", padding: 1, maxRotation: 0, autoSkip: false },
            grid: { display: true, drawOnChartArea: false, drawTicks: true, tickLength: 5, tickWidth: 1.3, tickColor: "#1a1a1a" },
            border: { display: false },
            title: { display: cfg.xTitle, text: X_LABEL, color: "#111", font: { size: 20, family: FONT, lineHeight: 1.2 }, padding: { top: 0, bottom: 2 } },
          },
          y: {
            type: "linear", min: cfg.yMin, max: cfg.yMax,
            afterBuildTicks: (s: any) => { s.ticks = cfg.yTicks.map((v) => ({ value: v })); },
            afterFit: (s: any) => { s.width = Y_AXIS_W; },
            ticks: { font: { size: 15, family: FONT }, color: "#111", padding: 2 },
            grid: { display: true, drawOnChartArea: false, drawTicks: true, tickLength: 7, tickWidth: 1.3, tickColor: "#1a1a1a" },
            border: { display: false },
          },
        },
      } as any,
      plugins: [decorPlugin(cfg)],
    });
    return () => chart.destroy();
  }, []);

  return (
    <canvas
      ref={ref}
      width={width}
      height={r.canvasH}
      style={{ position: "absolute", left, top: r.canvasTop, width, height: r.canvasH }}
    />
  );
}

export default function App() {
  return (
    <div style={{ position: "fixed", left: 0, top: 0, width: 1044, height: 479, overflow: "hidden", background: "#fff" }}>
      {PANELS.map((p, i) => (
        <Panel key={i} cfg={p} />
      ))}
    </div>
  );
}
